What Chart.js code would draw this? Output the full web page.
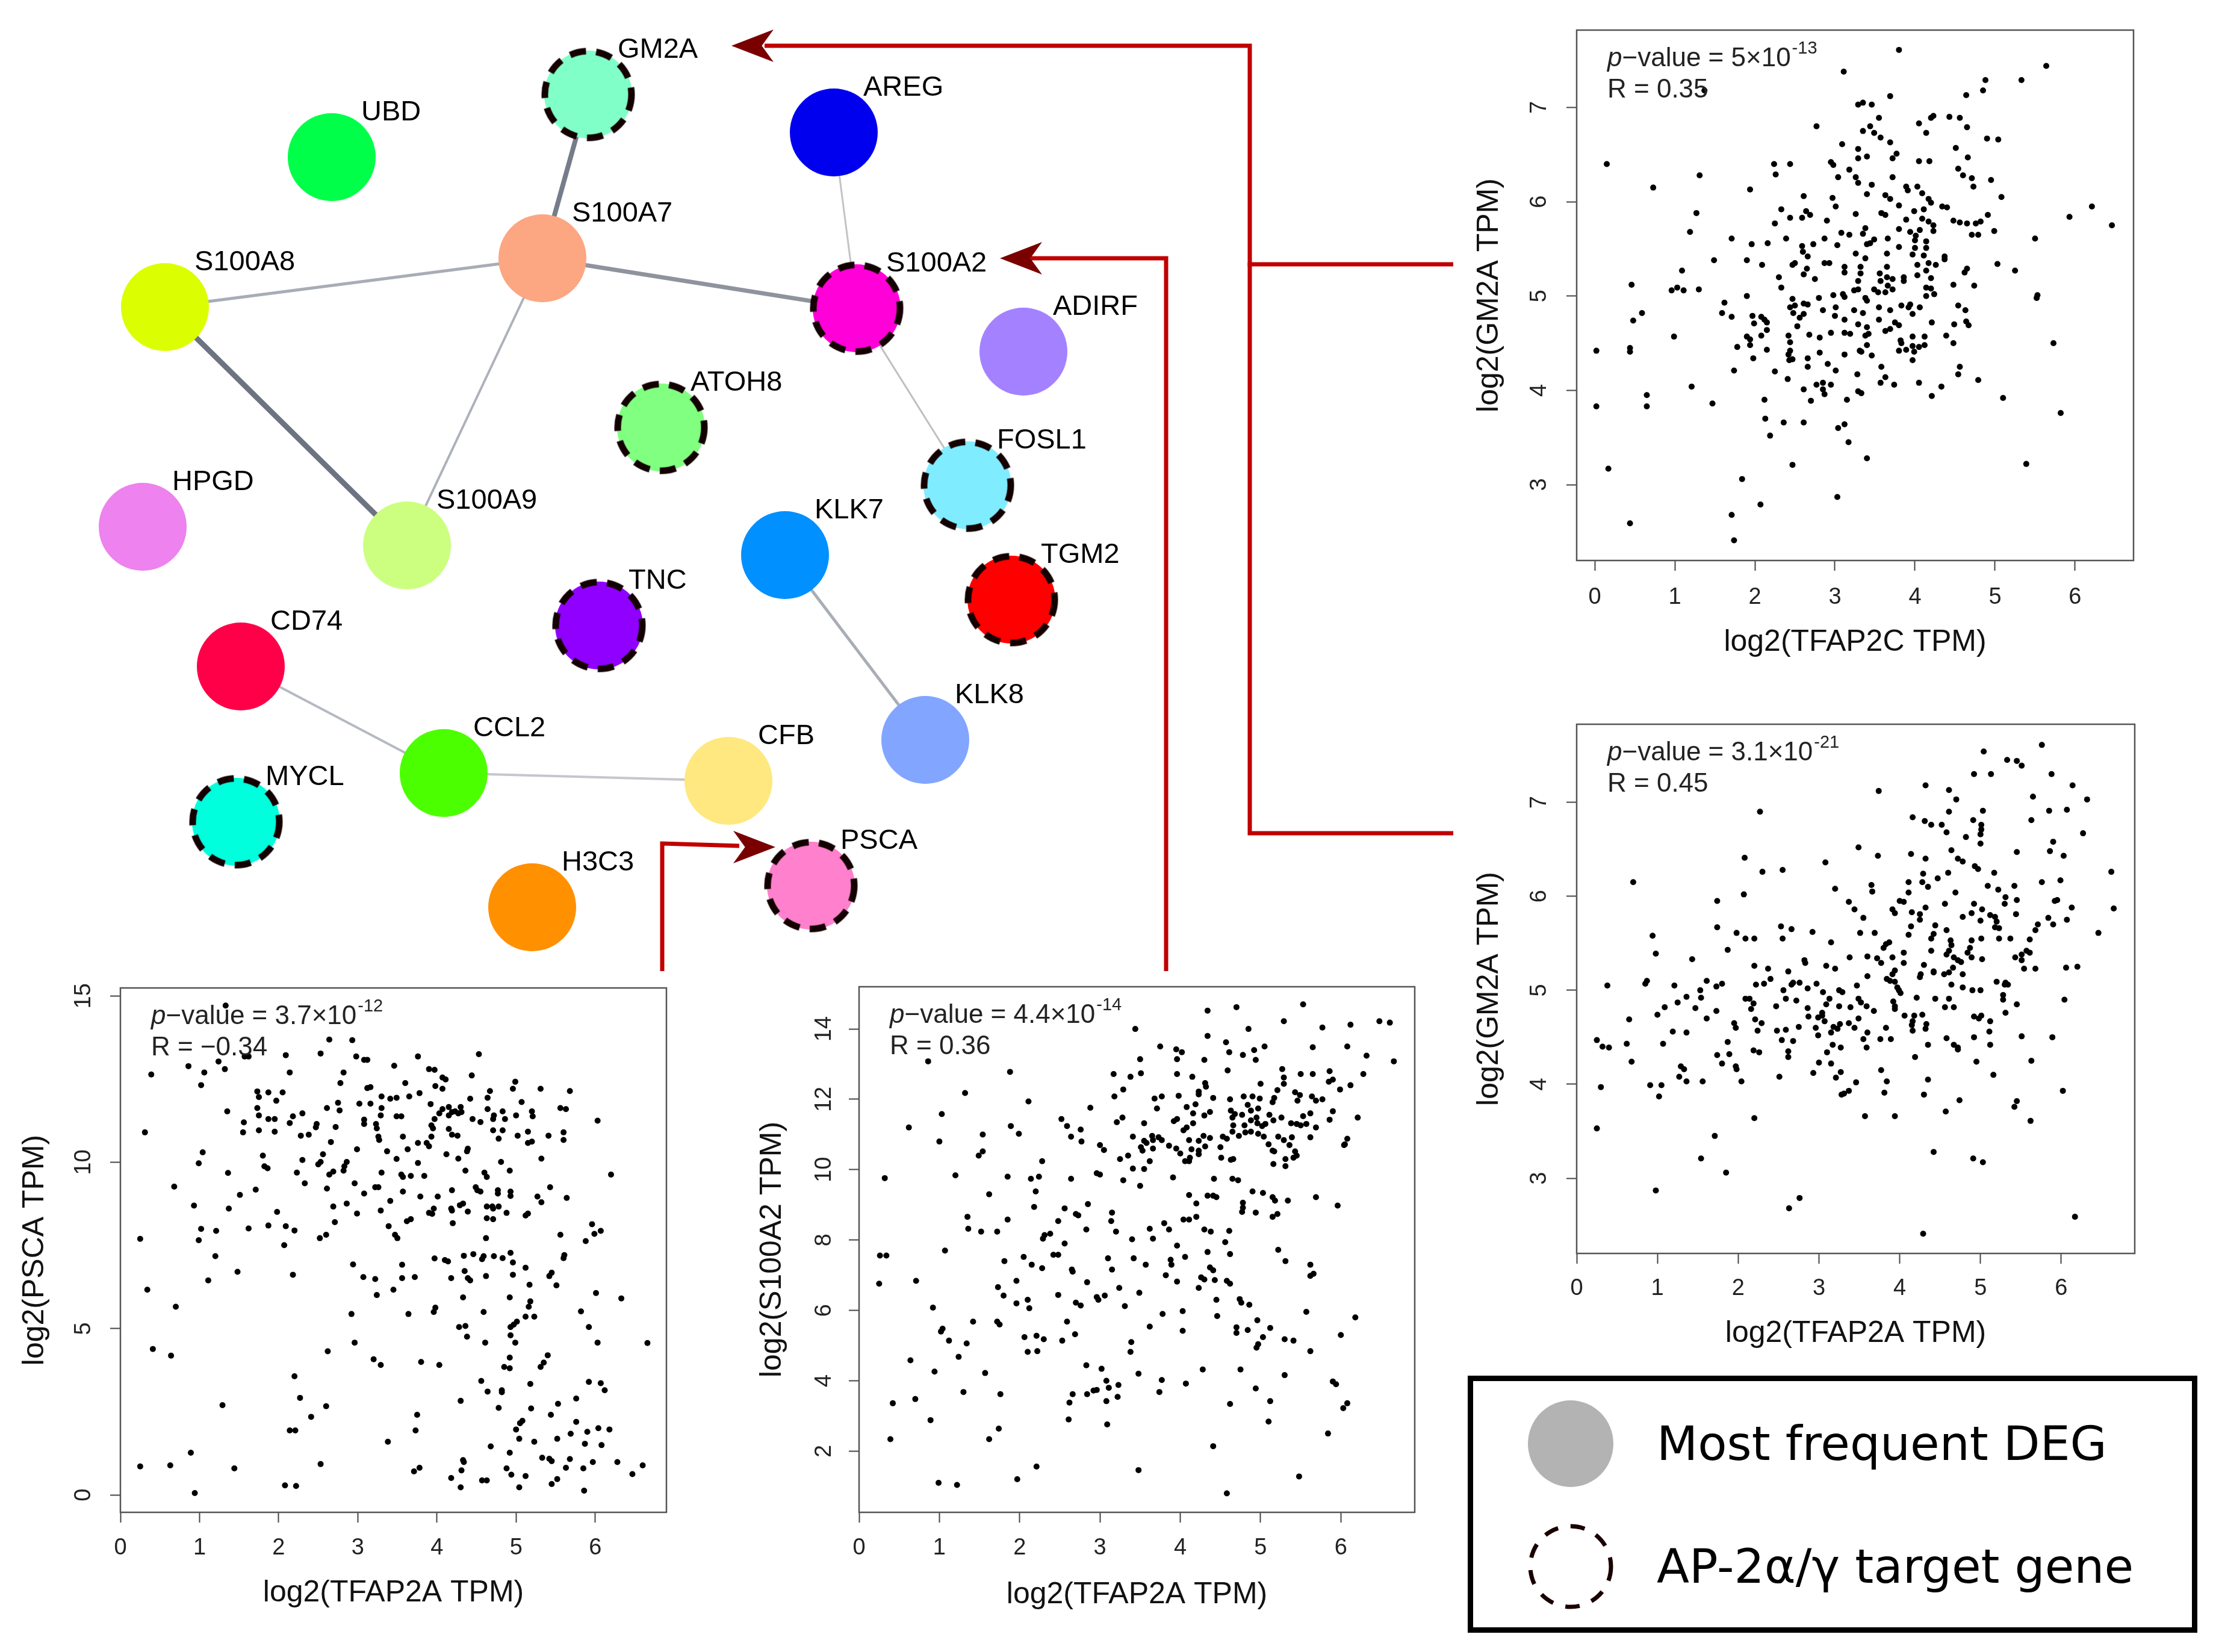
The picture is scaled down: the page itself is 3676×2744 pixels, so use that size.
<!DOCTYPE html>
<html><head><meta charset="utf-8">
<script src="https://cdn.jsdelivr.net/npm/chart.js@4.4.1/dist/chart.umd.min.js"></script>
<style>
html,body{margin:0;padding:0;background:#fff;}
body{width:3676px;height:2744px;position:relative;overflow:hidden;}
canvas{position:absolute;}
#legend{position:absolute;left:2438px;top:2285px;width:1212px;height:427px;border:9px solid #000;box-sizing:border-box;background:#fff;font-family:"DejaVu Sans",sans-serif;}
.lgtext{position:absolute;left:305px;height:100px;line-height:100px;font-size:79px;color:#000;white-space:nowrap;}
.lgmark{position:absolute;left:87px;}
</style></head><body>
<canvas id="net" width="3676" height="2744" style="left:0;top:0"></canvas>
<canvas id="c1" width="1134" height="1080" style="left:2420px;top:30px"></canvas>
<canvas id="c2" width="1136" height="1078" style="left:2420px;top:1183px"></canvas>
<canvas id="c3" width="1117" height="1070" style="left:0px;top:1621px"></canvas>
<canvas id="c4" width="1133" height="1072" style="left:1227px;top:1619px"></canvas>
<div id="legend">
 <svg class="lgmark" style="top:29px" width="150" height="150"><ellipse cx="75" cy="75" rx="71" ry="72" fill="#B3B3B3"/></svg>
 <div class="lgtext" style="top:54px">Most frequent DEG</div>
 <svg class="lgmark" style="top:233px" width="150" height="150"><circle cx="75" cy="75" r="67" fill="none" stroke="#1a0000" stroke-width="7" stroke-dasharray="24 21"/></svg>
 <div class="lgtext" style="top:258px">AP-2α/γ target gene</div>
</div>
<script>
// ================= NETWORK DATA =================
const nodeNames = ['GM2A','UBD','AREG','S100A7','S100A8','S100A2','ADIRF','ATOH8','FOSL1','HPGD','S100A9','KLK7','TGM2','TNC','CD74','KLK8','CCL2','CFB','MYCL','PSCA','H3C3'];
const nodeX = [977,551,1385,901,274,1423,1700,1098,1607,237,676,1304,1680,995,400,1537,737,1210,392,1347,884];
const nodeY = [157,261,220,429,510,512,584,710,806,875,906,922,996,1039,1107,1229,1284,1297,1365,1471,1507];
const nodeColors = ['#80FFC8','#00FF48','#0000EE','#FCA682','#DBFF00','#FF00D8','#A482FF','#80FF80','#80ECFF','#EE82EE','#CCFF80','#0090FF','#FF0000','#9000FF','#FF0048','#82A6FF','#4CFF00','#FFE880','#00FFDC','#FF80CC','#FF9000'];
const targetGenes = ['GM2A','S100A2','ATOH8','FOSL1','TGM2','TNC','MYCL','PSCA'];
const edgeFrom = ['S100A7','S100A7','S100A7','S100A7','S100A8','AREG','S100A2','KLK7','CD74','CCL2'];
const edgeTo   = ['GM2A','S100A8','S100A2','S100A9','S100A9','S100A2','FOSL1','KLK8','CCL2','CFB'];
const edgeColors = ['#767C8A','#A8ACB6','#8E939E','#ADB1BA','#6D7380','#C3C3C8','#BEBEC3','#A9ADB5','#B5B9C1','#C4C7CC'];
const edgeWidths = [8,5,7,4,9,3,3,5,4,4];
// connector paths (page layout) and arrow heads
const connectorPaths = [
  [[2414,439],[2076,439],[2076,76],[1270,76]],
  [[2414,1384],[2076,1384],[2076,436]],
  [[1937,1613],[1937,429],[1712,429]],
  [[1100,1613],[1100,1401],[1228,1405]]
];
const arrowHeadsLeft = [[1250,76],[1696,429]];
const arrowHeadsRight = [[1253,1407]];

// ================= SCATTER DATA =================
const xTicks = [0,1,2,3,4,5,6];
const yTicksGm2a = [3,4,5,6,7];
const yTicksPsca = [0,5,10,15];
const yTicksS100a2 = [2,4,6,8,10,12,14];

const gm2aVsTfap2c = [[3.80,7.61],[3.11,7.38],[5.64,7.44],[5.33,7.29],[4.88,7.29],[4.85,7.18],[4.64,7.13],[1.37,7.18],[3.69,7.12],[3.29,7.03],[3.35,7.05],[3.46,7.03],[3.55,6.89],[4.23,6.91],[4.20,6.89],[4.43,6.90],[4.56,6.89],[2.77,6.80],[3.44,6.80],[4.05,6.83],[4.65,6.79],[3.35,6.75],[4.14,6.73],[3.49,6.73],[3.57,6.68],[3.69,6.63],[3.09,6.61],[4.90,6.67],[5.04,6.66],[3.29,6.56],[4.51,6.57],[3.77,6.51],[4.66,6.47],[3.29,6.46],[3.40,6.48],[3.72,6.46],[4.18,6.43],[4.05,6.43],[0.15,6.40],[2.24,6.40],[2.44,6.40],[2.95,6.42],[2.98,6.39],[3.18,6.34],[4.54,6.35],[1.31,6.28],[2.26,6.29],[4.60,6.28],[3.04,6.26],[3.26,6.26],[3.72,6.26],[4.71,6.25],[4.95,6.23],[3.29,6.20],[3.46,6.18],[4.03,6.16],[0.73,6.15],[3.89,6.16],[4.73,6.16],[1.94,6.13],[3.91,6.12],[3.40,6.08],[4.09,6.09],[3.63,6.07],[2.61,6.06],[5.08,6.05],[2.97,6.04],[3.69,6.03],[4.17,6.03],[4.20,5.99],[3.80,5.96],[4.34,5.95],[4.40,5.94],[3.01,5.95],[6.21,5.95],[2.33,5.92],[4.11,5.92],[3.99,5.90],[2.64,5.90],[1.27,5.88],[3.26,5.87],[3.58,5.88],[2.69,5.86],[3.63,5.86],[4.91,5.86],[5.93,5.84],[2.44,5.83],[2.59,5.83],[3.89,5.81],[4.09,5.82],[4.48,5.80],[4.17,5.79],[4.56,5.78],[4.65,5.77],[4.76,5.77],[4.82,5.79],[2.90,5.80],[6.46,5.75],[4.23,5.75],[3.80,5.71],[4.99,5.69],[3.38,5.72],[4.06,5.70],[1.19,5.68],[3.94,5.68],[4.23,5.69],[3.35,5.66],[3.18,5.65],[4.71,5.65],[4.79,5.65],[3.08,5.67],[2.25,5.77],[4.01,5.64],[3.49,5.60],[4.00,5.59],[1.71,5.61],[5.50,5.61],[2.39,5.61],[2.87,5.61],[3.66,5.61],[4.14,5.58],[3.44,5.56],[3.40,5.55],[1.96,5.55],[2.16,5.56],[2.73,5.55],[3.03,5.54],[2.59,5.53],[3.80,5.52],[4.00,5.51],[4.14,5.51],[2.60,5.47],[3.26,5.45],[3.65,5.45],[3.97,5.44],[4.11,5.43],[2.66,5.42],[4.37,5.42],[3.38,5.40],[4.37,5.39],[1.49,5.38],[1.90,5.38],[4.17,5.35],[4.26,5.33],[2.93,5.35],[2.47,5.33],[2.50,5.35],[2.87,5.35],[5.03,5.34],[2.09,5.33],[4.03,5.33],[3.12,5.31],[3.32,5.31],[3.65,5.31],[2.65,5.29],[4.65,5.29],[5.25,5.27],[1.09,5.27],[4.14,5.27],[3.12,5.25],[4.62,5.25],[3.32,5.24],[3.56,5.24],[2.61,5.23],[4.03,5.22],[3.65,5.20],[2.30,5.20],[3.86,5.20],[4.20,5.19],[2.75,5.18],[3.29,5.16],[3.57,5.16],[3.72,5.18],[3.86,5.16],[4.48,5.12],[0.46,5.12],[4.74,5.11],[3.66,5.11],[2.33,5.09],[1.03,5.09],[4.14,5.09],[4.20,5.08],[3.49,5.07],[0.96,5.06],[1.11,5.06],[1.30,5.07],[3.24,5.06],[3.29,5.07],[3.72,5.07],[3.54,5.04],[3.63,5.04],[3.10,5.02],[2.98,5.01],[3.12,4.99],[4.24,5.02],[4.14,5.00],[5.53,5.01],[5.52,4.98],[1.90,5.00],[2.80,4.98],[3.38,4.98],[2.47,4.97],[3.40,4.95],[1.62,4.93],[2.61,4.92],[2.66,4.91],[2.50,4.90],[2.44,4.88],[3.55,4.88],[3.94,4.91],[4.54,4.90],[3.83,4.90],[4.06,4.88],[3.01,4.88],[2.85,4.85],[3.24,4.85],[3.69,4.85],[3.92,4.88],[4.63,4.85],[0.59,4.82],[2.48,4.82],[2.61,4.81],[1.59,4.82],[3.35,4.82],[3.97,4.81],[3.00,4.79],[2.56,4.77],[1.71,4.78],[1.97,4.79],[2.08,4.78],[2.12,4.75],[3.12,4.75],[3.55,4.75],[3.75,4.72],[4.64,4.73],[4.21,4.72],[0.48,4.74],[4.67,4.69],[4.49,4.70],[3.29,4.70],[2.53,4.68],[1.99,4.71],[2.15,4.72],[3.80,4.69],[3.40,4.67],[3.69,4.65],[3.63,4.63],[2.68,4.59],[3.38,4.58],[2.15,4.64],[3.12,4.61],[3.19,4.60],[3.42,4.60],[3.97,4.57],[4.12,4.57],[0.99,4.57],[2.08,4.58],[2.42,4.58],[2.95,4.61],[4.39,4.58],[1.90,4.57],[1.94,4.54],[2.81,4.56],[2.44,4.51],[3.82,4.53],[3.83,4.50],[4.48,4.50],[5.73,4.50],[3.40,4.48],[1.94,4.48],[3.97,4.47],[4.12,4.48],[1.78,4.46],[0.44,4.45],[0.02,4.42],[0.44,4.41],[2.44,4.42],[3.89,4.43],[3.31,4.42],[3.33,4.41],[3.80,4.42],[2.15,4.43],[2.42,4.38],[2.81,4.40],[3.99,4.41],[4.05,4.46],[3.12,4.38],[3.46,4.37],[2.66,4.34],[1.98,4.34],[2.47,4.33],[2.43,4.32],[3.97,4.32],[2.91,4.28],[2.66,4.25],[3.58,4.25],[4.56,4.25],[1.74,4.21],[3.01,4.21],[2.25,4.20],[4.54,4.17],[3.28,4.17],[3.63,4.14],[4.79,4.11],[2.41,4.12],[2.85,4.08],[3.57,4.08],[4.05,4.08],[2.77,4.06],[2.95,4.06],[3.74,4.06],[1.21,4.04],[4.33,4.04],[2.61,4.01],[2.85,4.01],[3.29,3.99],[3.33,3.97],[0.65,3.95],[2.87,3.96],[4.21,3.94],[5.10,3.92],[2.12,3.90],[3.15,3.90],[2.70,3.89],[0.02,3.83],[0.65,3.83],[1.47,3.86],[5.82,3.76],[2.13,3.70],[2.36,3.66],[2.61,3.66],[3.12,3.64],[3.04,3.60],[2.19,3.52],[3.17,3.45],[3.40,3.28],[2.47,3.21],[5.39,3.22],[0.17,3.17],[1.84,3.06],[3.03,2.87],[2.07,2.79],[1.71,2.68],[0.44,2.59],[1.74,2.41]];

const gm2aVsTfap2a = [[5.76,7.61],[5.04,7.54],[5.33,7.45],[5.45,7.44],[5.51,7.39],[4.92,7.30],[5.13,7.30],[5.88,7.30],[4.32,7.18],[6.14,7.18],[3.74,7.12],[4.61,7.13],[4.70,7.03],[5.65,7.06],[6.32,7.03],[2.27,6.90],[4.61,6.90],[5.03,6.91],[5.85,6.91],[6.07,6.92],[4.16,6.84],[4.31,6.80],[4.91,6.81],[5.63,6.81],[4.39,6.76],[4.52,6.76],[5.01,6.76],[5.01,6.71],[4.58,6.68],[6.27,6.67],[5.00,6.66],[4.82,6.63],[5.00,6.56],[5.90,6.58],[5.86,6.48],[3.49,6.52],[4.64,6.49],[5.45,6.47],[4.14,6.45],[3.73,6.43],[6.03,6.43],[2.08,6.41],[4.32,6.40],[4.72,6.40],[4.78,6.37],[3.08,6.36],[4.93,6.32],[4.97,6.29],[2.55,6.28],[2.30,6.26],[6.62,6.26],[4.60,6.25],[4.29,6.24],[5.17,6.25],[4.47,6.19],[5.99,6.17],[4.28,6.15],[4.11,6.15],[5.76,6.15],[0.70,6.15],[3.65,6.12],[5.09,6.11],[5.42,6.11],[4.35,6.10],[3.20,6.08],[5.22,6.07],[3.66,6.05],[4.11,6.04],[4.69,6.04],[2.07,6.02],[5.31,5.99],[5.45,5.96],[1.74,5.95],[5.95,5.96],[5.92,5.95],[3.37,5.94],[4.00,5.95],[4.05,5.94],[4.56,5.92],[4.92,5.92],[5.30,5.92],[6.13,5.88],[6.65,5.87],[3.44,5.86],[3.91,5.86],[4.32,5.88],[5.02,5.86],[4.15,5.83],[4.25,5.81],[3.94,5.82],[4.89,5.82],[5.44,5.81],[5.12,5.80],[5.18,5.78],[3.55,5.77],[4.78,5.78],[5.84,5.77],[4.25,5.75],[5.00,5.74],[6.07,5.75],[5.20,5.73],[5.90,5.70],[4.44,5.69],[5.71,5.70],[4.14,5.68],[1.74,5.67],[2.53,5.68],[5.18,5.67],[5.23,5.66],[4.58,5.64],[5.68,5.64],[2.66,5.65],[2.92,5.62],[6.46,5.61],[3.51,5.61],[3.69,5.61],[1.98,5.61],[4.11,5.59],[4.42,5.60],[5.01,5.55],[0.94,5.58],[5.23,5.55],[5.37,5.55],[2.09,5.55],[2.20,5.55],[4.39,5.55],[4.63,5.53],[4.89,5.53],[5.61,5.54],[2.55,5.55],[3.15,5.51],[3.87,5.51],[4.64,5.48],[4.61,5.42],[3.83,5.49],[3.80,5.45],[4.87,5.45],[1.87,5.43],[4.39,5.42],[5.57,5.42],[5.61,5.40],[0.98,5.39],[4.05,5.40],[4.84,5.40],[5.51,5.38],[4.58,5.38],[3.60,5.36],[5.43,5.35],[3.38,5.35],[3.91,5.35],[3.72,5.34],[4.89,5.35],[5.02,5.33],[1.43,5.33],[4.67,5.35],[4.72,5.32],[4.76,5.30],[2.82,5.32],[2.83,5.29],[3.77,5.29],[4.30,5.27],[4.05,5.29],[2.20,5.26],[3.09,5.26],[5.51,5.32],[5.54,5.23],[6.06,5.24],[6.20,5.25],[5.68,5.23],[3.20,5.23],[2.37,5.23],[4.42,5.20],[4.42,5.19],[4.61,5.19],[4.55,5.17],[3.94,5.21],[3.91,5.17],[4.26,5.17],[4.78,5.17],[2.62,5.20],[4.66,5.24],[4.25,5.14],[3.60,5.15],[3.84,5.12],[3.88,5.10],[3.94,5.09],[2.40,5.12],[1.61,5.10],[5.20,5.09],[5.31,5.08],[5.30,5.06],[5.34,5.06],[0.87,5.10],[0.85,5.07],[1.80,5.07],[1.73,5.04],[1.21,5.05],[0.38,5.05],[2.68,5.08],[2.66,5.06],[4.64,5.06],[2.32,5.07],[2.22,5.06],[2.76,5.08],[2.97,5.07],[3.97,5.03],[3.99,5.00],[5.00,5.00],[1.53,5.00],[2.56,5.00],[4.78,5.03],[4.01,4.97],[2.86,5.02],[3.05,4.98],[3.25,5.00],[3.29,4.98],[3.47,5.05],[4.90,5.00],[5.28,4.95],[1.36,4.93],[1.54,4.92],[3.39,4.82],[3.49,4.91],[3.52,4.87],[2.59,4.91],[2.09,4.91],[2.14,4.91],[3.13,4.91],[4.61,4.91],[4.44,4.91],[6.04,4.90],[4.21,4.92],[5.28,4.90],[4.67,4.82],[2.72,4.89],[1.25,4.87],[2.19,4.86],[3.59,4.83],[3.94,4.83],[3.92,4.88],[5.45,4.85],[2.47,4.83],[3.09,4.85],[2.86,4.81],[3.94,4.80],[4.56,4.82],[1.09,4.82],[1.47,4.81],[3.25,4.83],[2.16,4.80],[1.73,4.78],[3.68,4.78],[3.04,4.76],[5.31,4.76],[5.01,4.73],[4.06,4.73],[4.28,4.74],[4.92,4.72],[4.98,4.70],[1.00,4.74],[3.04,4.73],[2.87,4.72],[2.99,4.71],[4.18,4.73],[4.16,4.67],[1.61,4.70],[0.65,4.69],[3.49,4.70],[2.21,4.69],[1.95,4.65],[4.15,4.63],[4.33,4.64],[3.07,4.67],[3.37,4.65],[5.12,4.67],[2.29,4.65],[3.26,4.64],[2.75,4.61],[1.97,4.60],[2.96,4.60],[3.44,4.60],[3.83,4.60],[3.23,4.59],[4.32,4.59],[4.16,4.57],[5.11,4.56],[2.59,4.58],[2.24,4.57],[1.19,4.56],[1.36,4.55],[3.15,4.55],[3.18,4.61],[3.60,4.55],[2.99,4.52],[2.48,4.57],[3.76,4.48],[3.89,4.48],[5.51,4.51],[5.89,4.50],[4.92,4.50],[3.55,4.48],[4.58,4.49],[2.54,4.47],[2.68,4.46],[1.87,4.45],[0.25,4.47],[5.12,4.42],[0.32,4.40],[0.40,4.39],[0.62,4.43],[1.07,4.43],[3.59,4.39],[4.35,4.42],[4.67,4.42],[4.72,4.39],[3.17,4.42],[3.27,4.39],[3.10,4.34],[4.72,4.37],[2.62,4.35],[2.19,4.36],[2.26,4.34],[1.74,4.31],[1.89,4.32],[2.62,4.29],[4.19,4.29],[5.63,4.25],[4.95,4.24],[0.68,4.24],[1.80,4.22],[3.00,4.23],[3.15,4.22],[1.29,4.19],[1.97,4.19],[1.33,4.16],[1.98,4.16],[3.77,4.15],[3.27,4.13],[2.93,4.12],[5.16,4.10],[3.21,4.07],[2.51,4.08],[1.27,4.08],[3.84,4.03],[1.36,4.03],[1.56,4.03],[2.04,4.03],[3.46,4.02],[4.35,4.05],[0.91,3.99],[1.05,3.99],[0.30,3.97],[3.37,3.93],[6.02,3.93],[3.81,3.91],[3.28,3.89],[4.30,3.89],[3.31,3.90],[1.02,3.87],[4.74,3.83],[5.45,3.82],[5.42,3.76],[4.57,3.71],[3.57,3.66],[3.94,3.66],[2.20,3.64],[5.62,3.61],[0.25,3.53],[1.71,3.45],[4.42,3.28],[1.54,3.21],[4.91,3.21],[5.03,3.17],[1.85,3.06],[0.98,2.87],[2.76,2.79],[2.63,2.68],[6.17,2.59],[4.29,2.41]];

const pscaVsTfap2a = [[1.33,14.71],[2.64,13.69],[2.93,13.67],[1.24,13.03],[1.32,12.80],[0.86,12.89],[2.09,13.22],[2.53,13.27],[2.98,13.18],[3.08,13.08],[3.12,13.08],[1.57,13.18],[1.62,13.18],[3.76,13.18],[4.53,13.25],[0.39,12.64],[1.06,12.70],[2.14,12.70],[2.82,12.70],[3.46,12.90],[3.90,12.80],[3.97,12.78],[4.44,12.61],[4.07,12.55],[4.11,12.49],[2.78,12.38],[3.60,12.38],[1.02,12.32],[4.99,12.42],[3.98,12.29],[4.07,12.21],[4.96,12.21],[3.12,12.23],[3.16,12.26],[5.31,12.21],[4.67,12.14],[5.68,12.14],[1.73,12.13],[1.87,12.10],[2.05,12.10],[3.78,12.08],[3.65,11.98],[1.75,11.96],[3.30,11.98],[3.41,11.91],[3.49,11.94],[4.42,11.91],[4.64,11.94],[5.07,11.81],[1.97,11.85],[2.75,11.79],[3.02,11.76],[3.16,11.76],[3.92,11.75],[4.15,11.66],[4.30,11.66],[1.73,11.63],[2.61,11.63],[3.30,11.63],[5.56,11.63],[4.07,11.60],[4.64,11.60],[4.83,11.53],[5.20,11.53],[1.35,11.53],[5.63,11.60],[2.77,11.56],[4.19,11.51],[4.23,11.53],[4.27,11.47],[4.31,11.51],[4.03,11.47],[1.75,11.41],[3.29,11.41],[3.49,11.38],[3.55,11.38],[5.21,11.38],[5.00,11.41],[2.18,11.38],[2.30,11.47],[4.72,11.41],[4.15,11.41],[3.97,11.30],[4.71,11.30],[4.86,11.30],[1.87,11.30],[1.95,11.30],[6.03,11.25],[4.45,11.30],[4.55,11.21],[1.56,11.20],[2.14,11.18],[3.08,11.28],[3.08,11.15],[3.23,11.15],[2.48,11.15],[3.93,11.11],[2.47,11.05],[2.72,11.06],[3.95,11.02],[4.15,11.00],[3.24,11.02],[4.71,10.96],[4.83,10.96],[0.31,10.90],[1.55,10.90],[1.75,10.96],[1.95,10.92],[5.15,10.92],[2.38,10.83],[2.28,10.80],[4.19,10.83],[4.26,10.80],[5.02,10.80],[5.41,10.80],[5.60,10.90],[5.60,10.67],[3.26,10.77],[3.57,10.77],[3.93,10.77],[4.78,10.71],[5.15,10.58],[5.20,10.62],[2.66,10.61],[3.27,10.67],[3.76,10.58],[3.87,10.58],[3.90,10.48],[4.39,10.41],[2.99,10.39],[3.37,10.33],[3.63,10.39],[1.04,10.30],[4.12,10.24],[4.38,10.33],[1.80,10.20],[2.56,10.24],[4.27,10.11],[5.32,10.11],[3.49,10.10],[2.30,10.07],[2.53,10.01],[0.99,9.97],[3.76,9.98],[2.86,10.01],[4.81,10.01],[2.50,9.94],[1.82,9.88],[1.86,9.82],[2.83,9.88],[2.82,9.75],[4.92,9.75],[4.36,9.75],[1.36,9.68],[2.23,9.69],[2.69,9.72],[2.64,9.63],[6.20,9.63],[3.55,9.63],[4.60,9.69],[3.57,9.56],[3.30,9.69],[3.67,9.59],[3.84,9.59],[4.63,9.56],[2.33,9.37],[2.96,9.37],[0.68,9.27],[1.71,9.18],[2.61,9.21],[3.22,9.25],[3.26,9.25],[4.49,9.25],[4.51,9.16],[4.19,9.16],[4.55,9.12],[4.77,9.16],[4.93,9.12],[5.43,9.25],[3.08,9.06],[3.57,9.12],[4.77,9.06],[1.51,9.02],[4.01,8.97],[3.79,8.97],[5.27,8.97],[4.93,8.99],[3.41,8.84],[5.32,8.80],[5.64,8.93],[4.33,8.76],[4.29,8.71],[0.93,8.70],[2.69,8.67],[2.86,8.76],[3.96,8.61],[4.18,8.61],[4.63,8.67],[4.70,8.67],[4.78,8.67],[1.37,8.61],[4.19,8.55],[4.39,8.52],[4.71,8.61],[3.29,8.55],[3.90,8.48],[3.94,8.45],[4.88,8.48],[1.98,8.51],[2.99,8.46],[5.15,8.46],[5.12,8.40],[4.63,8.32],[4.71,8.29],[3.67,8.29],[3.62,8.23],[4.20,8.17],[2.71,8.20],[1.87,8.10],[2.09,8.08],[3.39,8.08],[5.96,8.14],[1.62,8.01],[1.02,8.00],[1.21,7.94],[2.20,7.95],[6.07,7.94],[5.99,7.85],[2.60,7.82],[2.52,7.72],[3.47,7.82],[3.50,7.72],[5.56,7.82],[4.62,7.72],[0.25,7.70],[0.99,7.66],[5.88,7.63],[2.07,7.51],[1.20,7.18],[3.97,7.11],[4.10,7.06],[4.14,7.02],[4.34,7.19],[4.46,7.24],[4.57,7.09],[4.59,7.18],[4.72,7.18],[4.83,7.12],[4.93,7.28],[4.96,6.99],[5.61,7.21],[5.60,7.12],[2.94,6.93],[3.56,6.92],[5.12,6.83],[4.35,6.73],[5.45,6.68],[5.42,6.58],[1.48,6.71],[2.18,6.62],[3.07,6.55],[3.72,6.55],[3.56,6.52],[4.18,6.52],[4.39,6.52],[4.42,6.45],[4.96,6.62],[4.62,6.58],[3.22,6.49],[1.11,6.45],[5.17,6.32],[5.51,6.30],[0.34,6.17],[3.45,6.17],[3.24,6.01],[6.01,6.07],[4.33,5.94],[6.33,5.91],[5.18,5.82],[5.16,5.66],[4.92,5.94],[0.70,5.66],[5.12,5.36],[5.23,5.36],[5.82,5.52],[3.98,5.63],[3.96,5.50],[3.64,5.44],[2.92,5.44],[4.59,5.50],[5.01,5.21],[4.97,5.12],[4.93,5.05],[4.28,5.05],[4.36,5.08],[5.92,5.05],[4.93,4.80],[4.38,4.76],[4.99,4.58],[4.61,4.58],[2.96,4.58],[6.03,4.58],[6.66,4.57],[0.41,4.39],[0.64,4.19],[2.62,4.32],[5.40,4.20],[4.92,4.13],[3.20,4.08],[3.29,3.91],[3.80,4.00],[4.03,3.91],[5.35,3.98],[5.31,3.85],[4.85,3.85],[4.92,3.81],[2.20,3.57],[5.92,3.40],[4.56,3.43],[6.07,3.36],[5.18,3.34],[6.12,3.15],[4.64,3.11],[4.82,3.15],[4.82,3.09],[2.27,2.92],[5.76,2.90],[4.30,2.83],[1.29,2.70],[2.60,2.67],[5.53,2.74],[4.78,2.62],[5.19,2.60],[3.75,2.41],[5.44,2.41],[2.41,2.35],[5.76,2.20],[5.08,2.23],[5.05,2.16],[5.00,1.97],[6.04,2.01],[5.90,1.90],[2.14,1.94],[2.21,1.94],[3.73,1.94],[6.18,1.97],[5.69,1.84],[5.52,1.69],[5.04,1.69],[5.23,1.60],[3.38,1.60],[5.87,1.54],[6.08,1.50],[4.68,1.46],[4.92,1.27],[0.89,1.27],[5.33,1.12],[5.68,1.08],[5.42,1.09],[4.33,1.05],[4.34,0.99],[5.97,0.99],[6.28,0.99],[5.45,1.02],[0.25,0.86],[0.63,0.89],[2.53,0.93],[1.44,0.80],[3.78,0.82],[5.63,0.82],[6.60,0.89],[4.88,0.80],[5.85,0.80],[4.31,0.74],[3.71,0.71],[4.94,0.61],[5.12,0.57],[6.47,0.63],[4.18,0.51],[4.57,0.44],[4.63,0.44],[5.52,0.48],[2.08,0.29],[2.22,0.27],[5.45,0.33],[4.30,0.23],[5.04,0.23],[5.86,0.13],[0.94,0.06]];

const s100a2VsTfap2a = [[5.53,14.70],[4.70,14.62],[4.34,14.52],[3.44,14.00],[6.48,14.22],[6.61,14.18],[6.12,14.12],[5.29,14.22],[5.77,14.04],[4.85,14.00],[4.34,13.80],[4.57,13.62],[3.75,13.50],[5.05,13.50],[6.08,13.50],[5.65,13.48],[3.95,13.42],[4.02,13.34],[4.61,13.34],[4.92,13.40],[6.32,13.24],[4.78,13.26],[6.66,13.08],[0.86,13.08],[4.30,13.12],[3.50,13.14],[3.96,13.14],[4.94,13.12],[5.27,12.86],[5.29,12.62],[4.59,12.82],[5.86,12.80],[5.65,12.72],[1.88,12.78],[3.17,12.72],[3.51,12.74],[3.38,12.64],[3.96,12.72],[4.15,12.64],[6.28,12.72],[5.50,12.72],[4.31,12.46],[4.32,12.36],[5.85,12.50],[5.90,12.56],[6.12,12.40],[5.29,12.44],[5.00,12.44],[3.29,12.28],[5.21,12.26],[5.99,12.28],[1.32,12.18],[4.23,12.22],[5.43,12.20],[4.23,12.14],[5.64,12.08],[5.49,12.12],[3.18,12.08],[3.98,12.10],[3.77,12.08],[4.79,12.08],[4.90,12.08],[5.17,12.04],[4.41,12.04],[4.62,12.00],[5.77,12.00],[3.68,12.02],[5.69,11.96],[4.99,12.02],[5.46,11.96],[2.11,11.94],[5.15,11.92],[4.19,11.86],[4.84,11.84],[4.08,11.78],[4.63,11.68],[3.71,11.74],[4.88,11.68],[4.97,11.74],[2.88,11.76],[5.90,11.66],[5.62,11.60],[4.16,11.60],[4.37,11.64],[4.68,11.58],[4.77,11.56],[5.11,11.56],[1.03,11.58],[4.30,11.54],[4.65,11.48],[5.53,11.52],[5.86,11.42],[6.21,11.48],[3.28,11.48],[5.26,11.48],[2.52,11.44],[4.95,11.48],[3.96,11.44],[5.16,11.40],[4.88,11.40],[3.92,11.38],[4.96,11.32],[3.21,11.35],[3.55,11.32],[5.38,11.32],[5.45,11.30],[5.57,11.30],[5.06,11.30],[4.16,11.32],[4.66,11.26],[4.80,11.26],[5.02,11.24],[5.69,11.20],[2.59,11.24],[5.50,11.26],[4.08,11.20],[1.89,11.24],[4.04,11.12],[0.62,11.20],[4.88,11.08],[4.65,11.08],[2.76,11.14],[4.81,11.06],[4.97,11.02],[1.99,11.02],[4.73,10.96],[5.04,10.94],[5.22,10.94],[3.65,10.96],[4.29,10.96],[4.53,10.94],[3.73,10.92],[4.58,10.88],[1.54,11.00],[2.64,10.94],[3.41,10.94],[5.39,10.92],[5.62,10.92],[6.08,10.88],[4.37,10.90],[3.66,10.84],[3.77,10.84],[5.29,10.84],[3.55,10.82],[4.23,10.82],[1.00,10.80],[2.77,10.80],[3.58,10.76],[4.11,10.84],[6.05,10.72],[5.10,10.72],[5.36,10.70],[6.04,10.70],[3.51,10.64],[4.50,10.64],[3.00,10.70],[3.86,10.68],[4.31,10.66],[3.66,10.60],[3.95,10.60],[4.14,10.58],[5.15,10.54],[3.05,10.56],[3.53,10.54],[4.23,10.54],[5.17,10.52],[5.43,10.52],[5.45,10.40],[1.54,10.52],[5.41,10.34],[4.23,10.44],[4.00,10.46],[3.35,10.40],[4.12,10.34],[4.51,10.34],[4.66,10.30],[5.31,10.30],[1.49,10.40],[3.25,10.30],[4.63,10.28],[4.06,10.24],[3.62,10.24],[4.11,10.24],[2.28,10.24],[5.16,10.16],[5.31,10.10],[3.41,10.03],[3.55,10.02],[2.96,9.90],[3.00,9.86],[1.20,9.84],[1.85,9.80],[2.24,9.80],[3.91,9.78],[4.42,9.74],[4.65,9.74],[4.72,9.70],[3.29,9.70],[2.14,9.74],[2.64,9.74],[0.32,9.76],[3.50,9.54],[2.20,9.38],[1.62,9.30],[4.90,9.38],[5.03,9.34],[4.41,9.26],[4.11,9.28],[4.34,9.26],[4.45,9.22],[5.15,9.22],[5.18,9.12],[5.34,9.12],[5.69,9.22],[4.20,9.04],[4.78,9.06],[2.85,9.02],[4.78,8.92],[5.96,8.98],[2.18,8.94],[2.56,8.90],[4.77,8.80],[4.94,8.78],[2.70,8.74],[2.73,8.70],[3.15,8.78],[5.21,8.74],[5.15,8.66],[1.35,8.66],[4.04,8.58],[4.11,8.58],[1.85,8.58],[3.14,8.54],[2.48,8.54],[4.20,8.66],[3.80,8.48],[3.86,8.30],[3.62,8.32],[1.36,8.32],[1.52,8.24],[1.72,8.24],[3.20,8.24],[2.83,8.30],[4.30,8.30],[4.38,8.24],[4.61,8.26],[2.31,8.14],[2.38,8.18],[3.66,8.04],[3.40,8.02],[2.29,8.04],[4.56,7.94],[3.96,7.84],[2.56,7.90],[5.22,7.72],[1.07,7.70],[4.34,7.66],[4.62,7.60],[0.26,7.56],[0.34,7.56],[2.42,7.58],[2.48,7.58],[2.05,7.52],[3.10,7.48],[3.42,7.48],[4.06,7.52],[5.31,7.40],[1.81,7.40],[3.88,7.44],[3.57,7.30],[3.89,7.30],[5.62,7.30],[2.15,7.30],[4.37,7.22],[2.65,7.16],[2.66,7.10],[3.15,7.16],[2.28,7.20],[4.41,7.14],[5.62,6.98],[3.82,7.00],[4.26,6.94],[4.30,6.88],[5.66,7.04],[4.43,6.86],[4.58,6.84],[3.96,6.82],[0.25,6.76],[0.71,6.84],[1.96,6.84],[2.84,6.80],[4.62,6.76],[3.24,6.64],[4.23,6.64],[1.73,6.66],[3.49,6.50],[1.80,6.42],[2.96,6.38],[2.98,6.30],[3.06,6.42],[2.48,6.44],[4.74,6.32],[4.76,6.22],[4.45,6.30],[1.96,6.20],[2.10,6.30],[2.70,6.22],[2.76,6.14],[3.31,6.12],[4.86,6.16],[0.92,6.08],[2.12,6.06],[4.03,5.98],[5.57,5.96],[3.78,5.90],[4.46,5.84],[6.18,5.80],[1.42,5.68],[4.96,5.72],[1.72,5.68],[2.59,5.68],[1.75,5.60],[3.62,5.54],[4.70,5.52],[5.12,5.50],[1.04,5.48],[1.02,5.40],[4.03,5.42],[4.70,5.36],[2.69,5.32],[6.00,5.30],[2.06,5.24],[2.21,5.28],[5.03,5.24],[2.30,5.18],[5.30,5.18],[5.41,5.14],[2.53,5.14],[1.12,5.14],[3.39,5.10],[4.97,5.04],[1.34,5.06],[4.95,4.94],[4.84,5.44],[2.10,4.82],[2.22,4.84],[3.38,4.82],[5.62,4.84],[1.24,4.68],[0.64,4.58],[4.75,4.32],[4.28,4.32],[0.94,4.26],[1.57,4.22],[3.48,4.20],[5.30,4.16],[3.02,4.34],[2.83,4.44],[3.77,4.02],[4.07,3.92],[5.90,3.98],[5.94,3.90],[3.08,4.00],[3.23,3.88],[2.96,3.74],[2.92,3.72],[4.94,3.78],[3.11,3.80],[3.74,3.68],[1.30,3.68],[1.76,3.62],[2.66,3.62],[2.84,3.62],[3.22,3.54],[0.70,3.48],[3.08,3.42],[5.12,3.42],[2.62,3.38],[0.42,3.36],[4.62,3.34],[6.08,3.36],[6.03,3.22],[2.61,2.90],[0.89,2.88],[5.10,2.84],[3.09,2.76],[1.74,2.64],[5.84,2.50],[0.39,2.34],[1.62,2.34],[4.41,2.14],[2.21,1.56],[3.48,1.46],[5.48,1.28],[1.97,1.20],[0.99,1.10],[1.22,1.04],[4.58,0.80]];

// ================= HELPERS =================
const FONT = '"Liberation Sans", Arial, Helvetica, sans-serif';
function makeRing(r, lw, dash, gap, color){
  const s = Math.ceil(2*r + lw + 6);
  const c = document.createElement('canvas'); c.width = s; c.height = s;
  const g = c.getContext('2d');
  g.strokeStyle = color; g.lineWidth = lw; g.setLineDash([dash, gap]);
  g.beginPath(); g.arc(s/2, s/2, r, 0, Math.PI*2); g.stroke();
  return c;
}
function makeHead(dir){
  const L = 70, H = 54;
  const c = document.createElement('canvas'); c.width = L; c.height = H;
  const g = c.getContext('2d'); g.fillStyle = '#7A0000';
  g.beginPath();
  if (dir < 0) { g.moveTo(0, H/2); g.lineTo(L, 0); g.lineTo(L*0.72, H/2); g.lineTo(L, H); }
  else { g.moveTo(L, H/2); g.lineTo(0, 0); g.lineTo(L*0.28, H/2); g.lineTo(0, H); }
  g.closePath(); g.fill();
  return c;
}
const ringImg = makeRing(72, 11, 27, 17, '#140000');
const headLeft = makeHead(-1), headRight = makeHead(1);

// ================= NETWORK CHART =================
const nodePts = nodeNames.map((n,i)=>({x:nodeX[i], y:nodeY[i]}));
const idx = n => nodeNames.indexOf(n);
const netDatasets = [];
netDatasets.push({type:'scatter', label:'targets', data: targetGenes.map(n=>nodePts[idx(n)]), pointStyle: ringImg, pointRadius: 78, order: 0});
netDatasets.push({type:'scatter', label:'nodes', data: nodePts, pointRadius: 73, pointBackgroundColor: nodeColors, pointBorderWidth: 0, order: 1});
edgeFrom.forEach((f,i)=>netDatasets.push({type:'line', data:[nodePts[idx(f)], nodePts[idx(edgeTo[i])]], borderColor: edgeColors[i], borderWidth: edgeWidths[i], pointRadius: 0, fill:false, tension:0, order: 3}));
connectorPaths.forEach(p=>netDatasets.push({type:'line', data:p.map(([x,y])=>({x,y})), borderColor:'#C00000', borderWidth:7, pointRadius:0, fill:false, tension:0, borderJoinStyle:'miter', borderCapStyle:'butt', order:2}));
netDatasets.push({type:'scatter', data: arrowHeadsLeft.map(([x,y])=>({x,y})), pointStyle: headLeft, pointRadius: 35, order: 0});
netDatasets.push({type:'scatter', data: arrowHeadsRight.map(([x,y])=>({x,y})), pointStyle: headRight, pointRadius: 35, order: 0});

const labelPlugin = {
  id:'nodeLabels',
  afterDatasetsDraw(chart){
    const meta = chart.getDatasetMeta(1); const ctx = chart.ctx;
    ctx.save(); ctx.font = '47px ' + FONT; ctx.fillStyle = '#000'; ctx.textBaseline = 'alphabetic'; ctx.textAlign = 'left';
    meta.data.forEach((el,i)=>{ ctx.fillText(nodeNames[i], el.x + 49, el.y - 61); });
    ctx.restore();
  }
};

new Chart(document.getElementById('net'), {
  type:'scatter',
  data:{datasets: netDatasets},
  options:{
    responsive:false, animation:false, devicePixelRatio:1, events:[],
    layout:{padding:0, autoPadding:false},
    plugins:{legend:{display:false}, tooltip:{enabled:false}},
    scales:{
      x:{type:'linear', min:0, max:3676, display:false},
      y:{type:'linear', min:0, max:2744, reverse:true, display:false}
    }
  },
  plugins:[labelPlugin]
});

// ================= SCATTER CHARTS =================
const boxPlugin = {
  id:'box',
  afterDraw(chart){
    const {ctx, chartArea:a} = chart;
    ctx.save(); ctx.strokeStyle = '#555'; ctx.lineWidth = 2.5;
    ctx.strokeRect(a.left, a.top, a.right - a.left, a.bottom - a.top);
    ctx.restore();
  }
};
const annotPlugin = {
  id:'annot',
  afterDraw(chart, args, o){
    if (!o || !o.mant) return;
    const a = chart.chartArea, ctx = chart.ctx;
    ctx.save(); ctx.fillStyle = '#222'; ctx.textBaseline = 'middle'; ctx.textAlign = 'left';
    let x = a.left + 51; const y1 = a.top + 48;
    ctx.font = 'italic 44px ' + FONT; ctx.fillText('p', x, y1); x += ctx.measureText('p').width;
    ctx.font = '44px ' + FONT; const t = '\u2212value = ' + o.mant + '\u00d710'; ctx.fillText(t, x, y1); x += ctx.measureText(t).width;
    ctx.font = '29px ' + FONT; ctx.fillText(o.exp, x + 2, y1 - 17);
    ctx.font = '44px ' + FONT; ctx.fillText('R = ' + o.r, a.left + 51, a.top + 100);
    ctx.restore();
  }
};
function zeroPad(s){ s.paddingTop = 0; s.paddingBottom = 0; s.paddingLeft = 0; s.paddingRight = 0; }
function scatterChart(id, pts, c){
  const gridOpt = {display:true, drawOnChartArea:false, drawTicks:true, tickLength:17, color:'#444', tickColor:'#444', tickWidth:2};
  return new Chart(document.getElementById(id), {
    type:'scatter',
    data:{datasets:[{data: pts.map(([x,y])=>({x,y})), pointRadius:5, pointBackgroundColor:'#000', pointBorderWidth:0}]},
    options:{
      responsive:false, animation:false, devicePixelRatio:1, events:[],
      layout:{padding:{top:20, right:10, left:0, bottom:0}, autoPadding:false},
      plugins:{legend:{display:false}, tooltip:{enabled:false}, annot:c.annot},
      scales:{
        x:{type:'linear', position:'bottom', min:c.xMin, max:c.xMax,
           afterFit:s=>{ s.height = 179; zeroPad(s); },
           afterBuildTicks:s=>{ s.ticks = xTicks.map(v=>({value:v})); },
           grid:gridOpt, border:{display:false},
           ticks:{autoSkip:false, maxRotation:0, minRotation:0, padding:c.xTickPad, color:'#222', font:{family:FONT, size:38}},
           title:{display:true, text:c.xTitle, color:'#111', font:{family:FONT, size:50}, padding:{top:0, bottom:c.xTitlePad}}},
        y:{type:'linear', position:'left', min:c.yMin, max:c.yMax,
           afterFit:s=>{ s.width = c.padLeft; zeroPad(s); },
           afterBuildTicks:s=>{ s.ticks = c.yTicks.map(v=>({value:v})); },
           grid:gridOpt, border:{display:false},
           ticks:{autoSkip:false, minRotation:90, maxRotation:90, crossAlign:'center', padding:c.yTickPad, color:'#222', font:{family:FONT, size:38}},
           title:{display:true, text:c.yTitle, color:'#111', font:{family:FONT, size:50}, padding:{top:c.yTitlePad, bottom:0}}}
      }
    },
    plugins:[boxPlugin, annotPlugin]
  });
}

scatterChart('c1', gm2aVsTfap2c, {xMin:-0.226, xMax:6.73, yMin:2.196, yMax:7.82, yTicks:yTicksGm2a, padLeft:199,
  xTickPad:22, xTitlePad:13, yTickPad:34, yTitlePad:24, xTitle:'log2(TFAP2C TPM)', yTitle:'log2(GM2A TPM)',
  annot:{mant:'5', exp:'-13', r:'0.35'}});
scatterChart('c2', gm2aVsTfap2a, {xMin:0, xMax:6.91, yMin:2.2, yMax:7.83, yTicks:yTicksGm2a, padLeft:199,
  xTickPad:19, xTitlePad:16, yTickPad:34, yTitlePad:24, xTitle:'log2(TFAP2A TPM)', yTitle:'log2(GM2A TPM)',
  annot:{mant:'3.1', exp:'-21', r:'0.45'}});
scatterChart('c3', pscaVsTfap2a, {xMin:0, xMax:6.9, yMin:-0.52, yMax:15.24, yTicks:yTicksPsca, padLeft:200,
  xTickPad:20, xTitlePad:15, yTickPad:22, yTitlePad:28, xTitle:'log2(TFAP2A TPM)', yTitle:'log2(PSCA TPM)',
  annot:{mant:'3.7', exp:'-12', r:'\u22120.34'}});
scatterChart('c4', s100a2VsTfap2a, {xMin:0, xMax:6.92, yMin:0.26, yMax:15.2, yTicks:yTicksS100a2, padLeft:200,
  xTickPad:20, xTitlePad:12, yTickPad:19, yTitlePad:26, xTitle:'log2(TFAP2A TPM)', yTitle:'log2(S100A2 TPM)',
  annot:{mant:'4.4', exp:'-14', r:'0.36'}});
</script>
</body></html>
